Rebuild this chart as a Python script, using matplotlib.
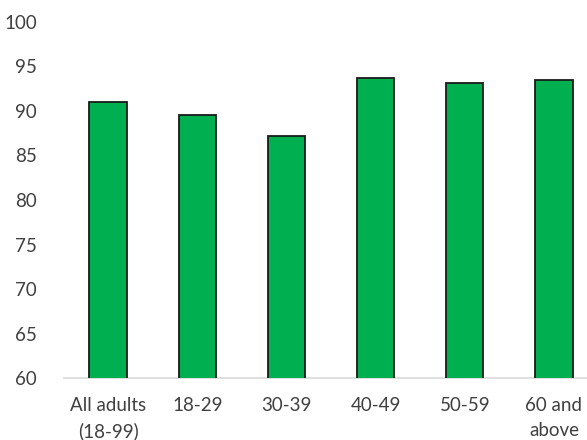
import matplotlib.pyplot as plt

categories = ["All adults\n(18-99)", "18-29", "30-39", "40-49", "50-59", "60 and\nabove"]
values = [91.0, 89.6, 87.2, 93.7, 93.1, 93.5]
yticks = [60, 65, 70, 75, 80, 85, 90, 95, 100]

plt.rcParams["font.family"] = ["Lato", "DejaVu Sans"]

fig = plt.figure(figsize=(5.87, 4.4), dpi=100)
ax = fig.add_axes([63.5 / 587, 62 / 440, 535 / 587, 356 / 440])

x = range(len(categories))
ax.bar(x, values, width=0.42, color="#00B050", edgecolor="#1a1a1a", linewidth=1.3, zorder=3)

ax.set_ylim(60, 100)
ax.set_xlim(-0.5, len(categories) - 0.5)
ax.set_yticks(yticks)
ax.set_xticks(list(x))
ax.set_xticklabels(categories, linespacing=1.55)

for side in ["top", "right", "left"]:
    ax.spines[side].set_visible(False)
ax.spines["bottom"].set_color("#D9D9D9")
ax.spines["bottom"].set_linewidth(1.2)

ax.tick_params(axis="both", length=0, colors="#404040", labelsize=13.5)
ax.tick_params(axis="y", pad=19)
ax.tick_params(axis="x", pad=14)

fig.savefig("out.png", dpi=100)
